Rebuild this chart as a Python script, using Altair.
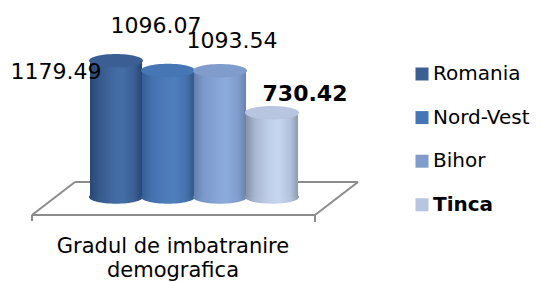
import altair as alt
import pandas as pd

# ---- data ----
series = ["Romania", "Nord-Vest", "Bihor", "Tinca"]
values = [1179.49, 1096.07, 1093.54, 730.42]
category = ["Gradul de imbatranire", "demografica"]

# ---- styles ----
legend_colors = ["#3b5f94", "#4676b4", "#7f9ccc", "#b7c5e1"]
body_stops = {
    "Romania":   ["#2a4773", "#35598c", "#4169a1", "#446ea8", "#3a5e92", "#2a4672"],
    "Nord-Vest": ["#365d95", "#4470ad", "#4d7bba", "#507fbe", "#4571ab", "#335889"],
    "Bihor":     ["#647fae", "#7b98ca", "#88a5d7", "#8cabdc", "#809ccc", "#6a82ad"],
    "Tinca":     ["#8892a8", "#a9b7d2", "#c0cfea", "#c6d5f0", "#b4c2dc", "#8e99b0"],
}
stop_pos = [0.0, 0.18, 0.45, 0.62, 0.85, 1.0]
label_offsets = {"Romania": (-60, 18), "Nord-Vest": (-12, -37), "Bihor": (12, -23), "Tinca": (33, -12)}
bold_labels = {"Tinca"}
FONT = "DejaVu Sans"
ELLIPSE = "M-1,0A1,0.25,0,1,1,1,0A1,0.25,0,1,1,-1,0Z"
ELLIPSE_SIZE = 54 * 54

df = pd.DataFrame({"series": series, "value": values})

xenc = alt.X("series:N", sort=series,
             scale=alt.Scale(domain=series, range=[82, 290], paddingInner=0, paddingOuter=0),
             axis=None)
yscale = alt.Scale(domain=[0, 1000], range=[189, 73.5], nice=False, zero=True)
yenc = alt.Y("value:Q", scale=yscale, axis=None)

base = alt.Chart(df)


def grad(name):
    return alt.Gradient(
        gradient="linear", x1=0, x2=1, y1=0, y2=0,
        stops=[alt.GradientStop(offset=o, color=c) for o, c in zip(stop_pos, body_stops[name])],
    )


def seg(x1, y1, x2, y2):
    return alt.Chart(alt.Data(values=[{}])).mark_rule(color="#8c8c8c", strokeWidth=2).encode(
        x=alt.value(x1), y=alt.value(y1), x2=alt.value(x2), y2=alt.value(y2)
    )


floor = [
    seg(67, 174, 350, 174),
    seg(350, 174, 307, 207),
    seg(307, 207, 24, 207),
    seg(24, 207, 67, 174),
    seg(24, 207, 24, 213),
    seg(307, 207, 307, 214),
]

cyl_layers = []
for name in series:
    sub = base.transform_filter(alt.datum.series == name)
    bottom = sub.transform_calculate(base0="0").mark_point(
        shape=ELLIPSE, size=ELLIPSE_SIZE, filled=True, fill=grad(name), opacity=1, strokeWidth=0
    ).encode(x=xenc, y=alt.Y("base0:Q", scale=yscale, axis=None))
    body = sub.mark_bar(fill=grad(name), stroke=None).encode(x=xenc, y=yenc)
    cyl_layers += [bottom, body]

tops = base.mark_point(shape=ELLIPSE, size=ELLIPSE_SIZE, filled=True, opacity=1, strokeWidth=0).encode(
    x=xenc, y=yenc,
    color=alt.Color(
        "series:N", sort=series,
        scale=alt.Scale(domain=series, range=legend_colors),
        legend=alt.Legend(
            title=None, orient="none", legendX=404, legendY=56,
            symbolType="square", symbolSize=169, symbolStrokeWidth=0, symbolOpacity=1,
            labelFont=FONT, labelFontSize=20, labelColor="black", labelOffset=1,
            rowPadding=23.6, padding=0,
            labelFontWeight={"expr": "datum.label == 'Tinca' ? 'bold' : 'normal'"},
        ),
    ),
)

labels = []
for name in series:
    dx, dy = label_offsets[name]
    labels.append(
        base.transform_filter(alt.datum.series == name).mark_text(
            font=FONT, fontSize=22, color="black", dx=dx, dy=dy, align="center",
            baseline="alphabetic", fontWeight="bold" if name in bold_labels else "normal",
        ).encode(x=xenc, y=yenc, text=alt.Text("value:Q", format=".2f"))
    )

cat_text = alt.Chart(alt.Data(values=[{"cat": "\n".join(category)}])).mark_text(
    font=FONT, fontSize=21, lineBreak="\n", lineHeight=24, align="center", baseline="alphabetic", color="black"
).encode(x=alt.value(165), y=alt.value(245), text="cat:N")

chart = alt.layer(*floor, *cyl_layers, tops, *labels, cat_text).properties(
    width=526, height=274, autosize=alt.AutoSizeParams(type="none"), padding=0, background="white"
).configure_view(stroke=None)

chart.save("out.html", embed_options={"renderer": "svg", "actions": False})
